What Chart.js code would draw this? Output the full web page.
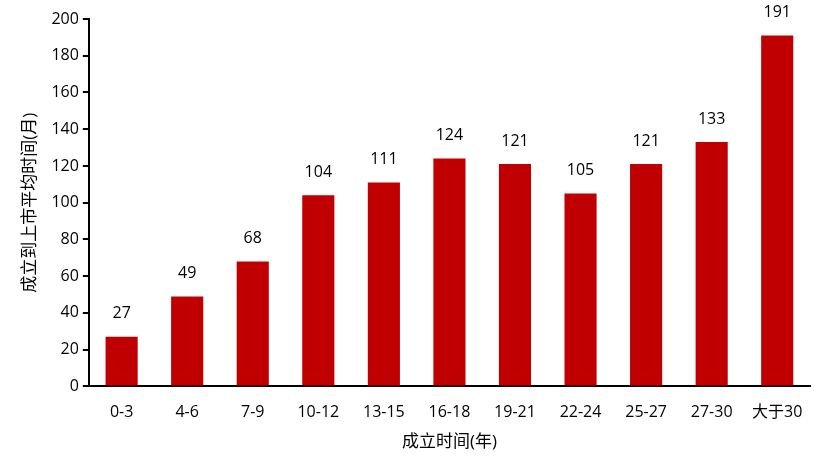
<!DOCTYPE html>
<html lang="zh">
<head>
<meta charset="UTF-8">
<title>成立到上市平均时间</title>
<script src="https://cdn.jsdelivr.net/npm/chart.js"></script>
<style>
  html, body { margin: 0; padding: 0; background: #fff; }
  #wrap { width: 827px; height: 464px; }
</style>
</head>
<body>
<div id="wrap"><canvas id="myChart" width="827" height="464"></canvas></div>
<script>
// data
const categories = ['0-3', '4-6', '7-9', '10-12', '13-15', '16-18', '19-21', '22-24', '25-27', '27-30', '大于30'];
const months = [27, 49, 68, 104, 111, 124, 121, 105, 121, 133, 191];
const yTicks = [0, 20, 40, 60, 80, 100, 120, 140, 160, 180, 200];

const fontFamily = "'Open Sans', 'Noto Sans CJK SC', sans-serif";

// draws the value above each bar
const valueLabels = {
  id: 'valueLabels',
  afterDatasetsDraw(chart) {
    const ctx = chart.ctx;
    const meta = chart.getDatasetMeta(0);
    ctx.save();
    ctx.font = "16px " + fontFamily;
    ctx.fillStyle = '#000';
    ctx.textAlign = 'center';
    ctx.textBaseline = 'middle';
    meta.data.forEach((bar, i) => {
      ctx.fillText(String(months[i]), bar.x, bar.y - 23);
    });
    ctx.restore();
  }
};

const ctx = document.getElementById('myChart').getContext('2d');
new Chart(ctx, {
  type: 'bar',
  data: {
    labels: categories,
    datasets: [{
      data: months,
      backgroundColor: '#C00000',
      categoryPercentage: 1,
      barPercentage: 0.49
    }]
  },
  options: {
    responsive: false,
    animation: false,
    layout: { padding: { left: 20, right: 17, top: 19, bottom: 12 } },
    plugins: {
      legend: { display: false },
      tooltip: { enabled: false }
    },
    scales: {
      x: {
        grid: { display: false },
        border: { color: '#000', width: 2 },
        ticks: { color: '#000', font: { size: 16, family: fontFamily }, padding: 8, maxRotation: 0 },
        title: { display: true, text: '成立时间(年)', color: '#000', font: { size: 17, family: fontFamily }, padding: { top: 2, bottom: 0 } }
      },
      y: {
        min: 0,
        max: 200,
        afterBuildTicks(axis) { axis.ticks = yTicks.map(v => ({ value: v })); },
        grid: { drawOnChartArea: false, drawTicks: true, tickLength: 6, color: '#000', lineWidth: 2 },
        border: { color: '#000', width: 2 },
        ticks: { color: '#000', font: { size: 16, family: fontFamily }, padding: 4 },
        title: { display: true, text: '成立到上市平均时间(月)', color: '#000', font: { size: 17, family: fontFamily }, padding: { top: 0, bottom: 7 } }
      }
    }
  },
  plugins: [valueLabels]
});
</script>
</body>
</html>
